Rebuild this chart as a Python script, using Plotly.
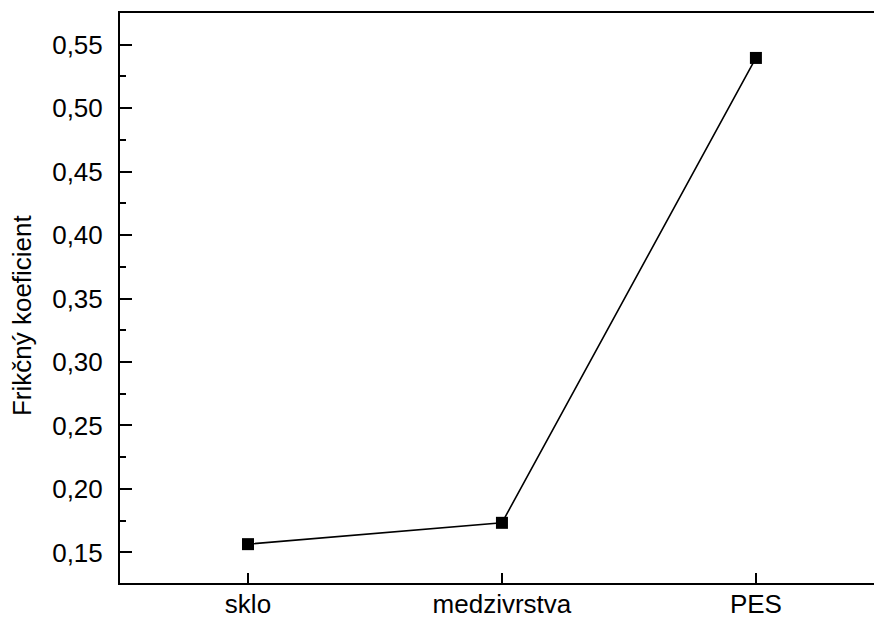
import plotly.graph_objects as go

categories = ["sklo", "medzivrstva", "PES"]
values = [0.1565, 0.1733, 0.5395]
y_ticks = [0.15, 0.20, 0.25, 0.30, 0.35, 0.40, 0.45, 0.50, 0.55]
y_tick_labels = ["0,15", "0,20", "0,25", "0,30", "0,35", "0,40", "0,45", "0,50", "0,55"]

FONT = "Liberation Sans, Arial, sans-serif"

fig = go.Figure()
fig.add_trace(go.Scatter(
    x=list(range(len(categories))), y=values, mode="lines+markers",
    line=dict(color="black", width=1.6),
    marker=dict(symbol="square", size=12, color="black"),
    showlegend=False,
))

fig.update_layout(
    width=874, height=619,
    margin=dict(l=120, r=0, t=13, b=36, autoexpand=False),
    paper_bgcolor="white", plot_bgcolor="white",
    font=dict(family=FONT, size=26, color="black"),
)
fig.update_xaxes(
    range=[-0.504, 2.465],
    tickvals=list(range(len(categories))), ticktext=categories,
    ticks="inside", ticklen=10, tickwidth=2, tickcolor="black",
    showline=True, linecolor="black", linewidth=2, mirror=True,
    showgrid=False, zeroline=False, ticklabelstandoff=-3, automargin=False,
)
fig.update_yaxes(
    range=[0.1259, 0.5749],
    tickvals=y_ticks, ticktext=y_tick_labels,
    ticks="inside", ticklen=12, tickwidth=2, tickcolor="black",
    minor=dict(ticks="inside", ticklen=6, tickwidth=2, tickcolor="black", dtick=0.025, tick0=0.125),
    showline=True, linecolor="black", linewidth=2, mirror=False,
    showgrid=False, zeroline=False, ticklabelstandoff=10, automargin=False,
)
fig.add_annotation(
    text="Frikčný koeficient", textangle=-90,
    xref="paper", yref="paper", x=-0.130, y=0.47,
    xanchor="center", yanchor="middle", showarrow=False,
    font=dict(family=FONT, size=26, color="black"),
)

fig.write_html("out.html", config={"displayModeBar": False},
               post_script="document.body.style.margin='0px';document.body.style.overflow='hidden';")
